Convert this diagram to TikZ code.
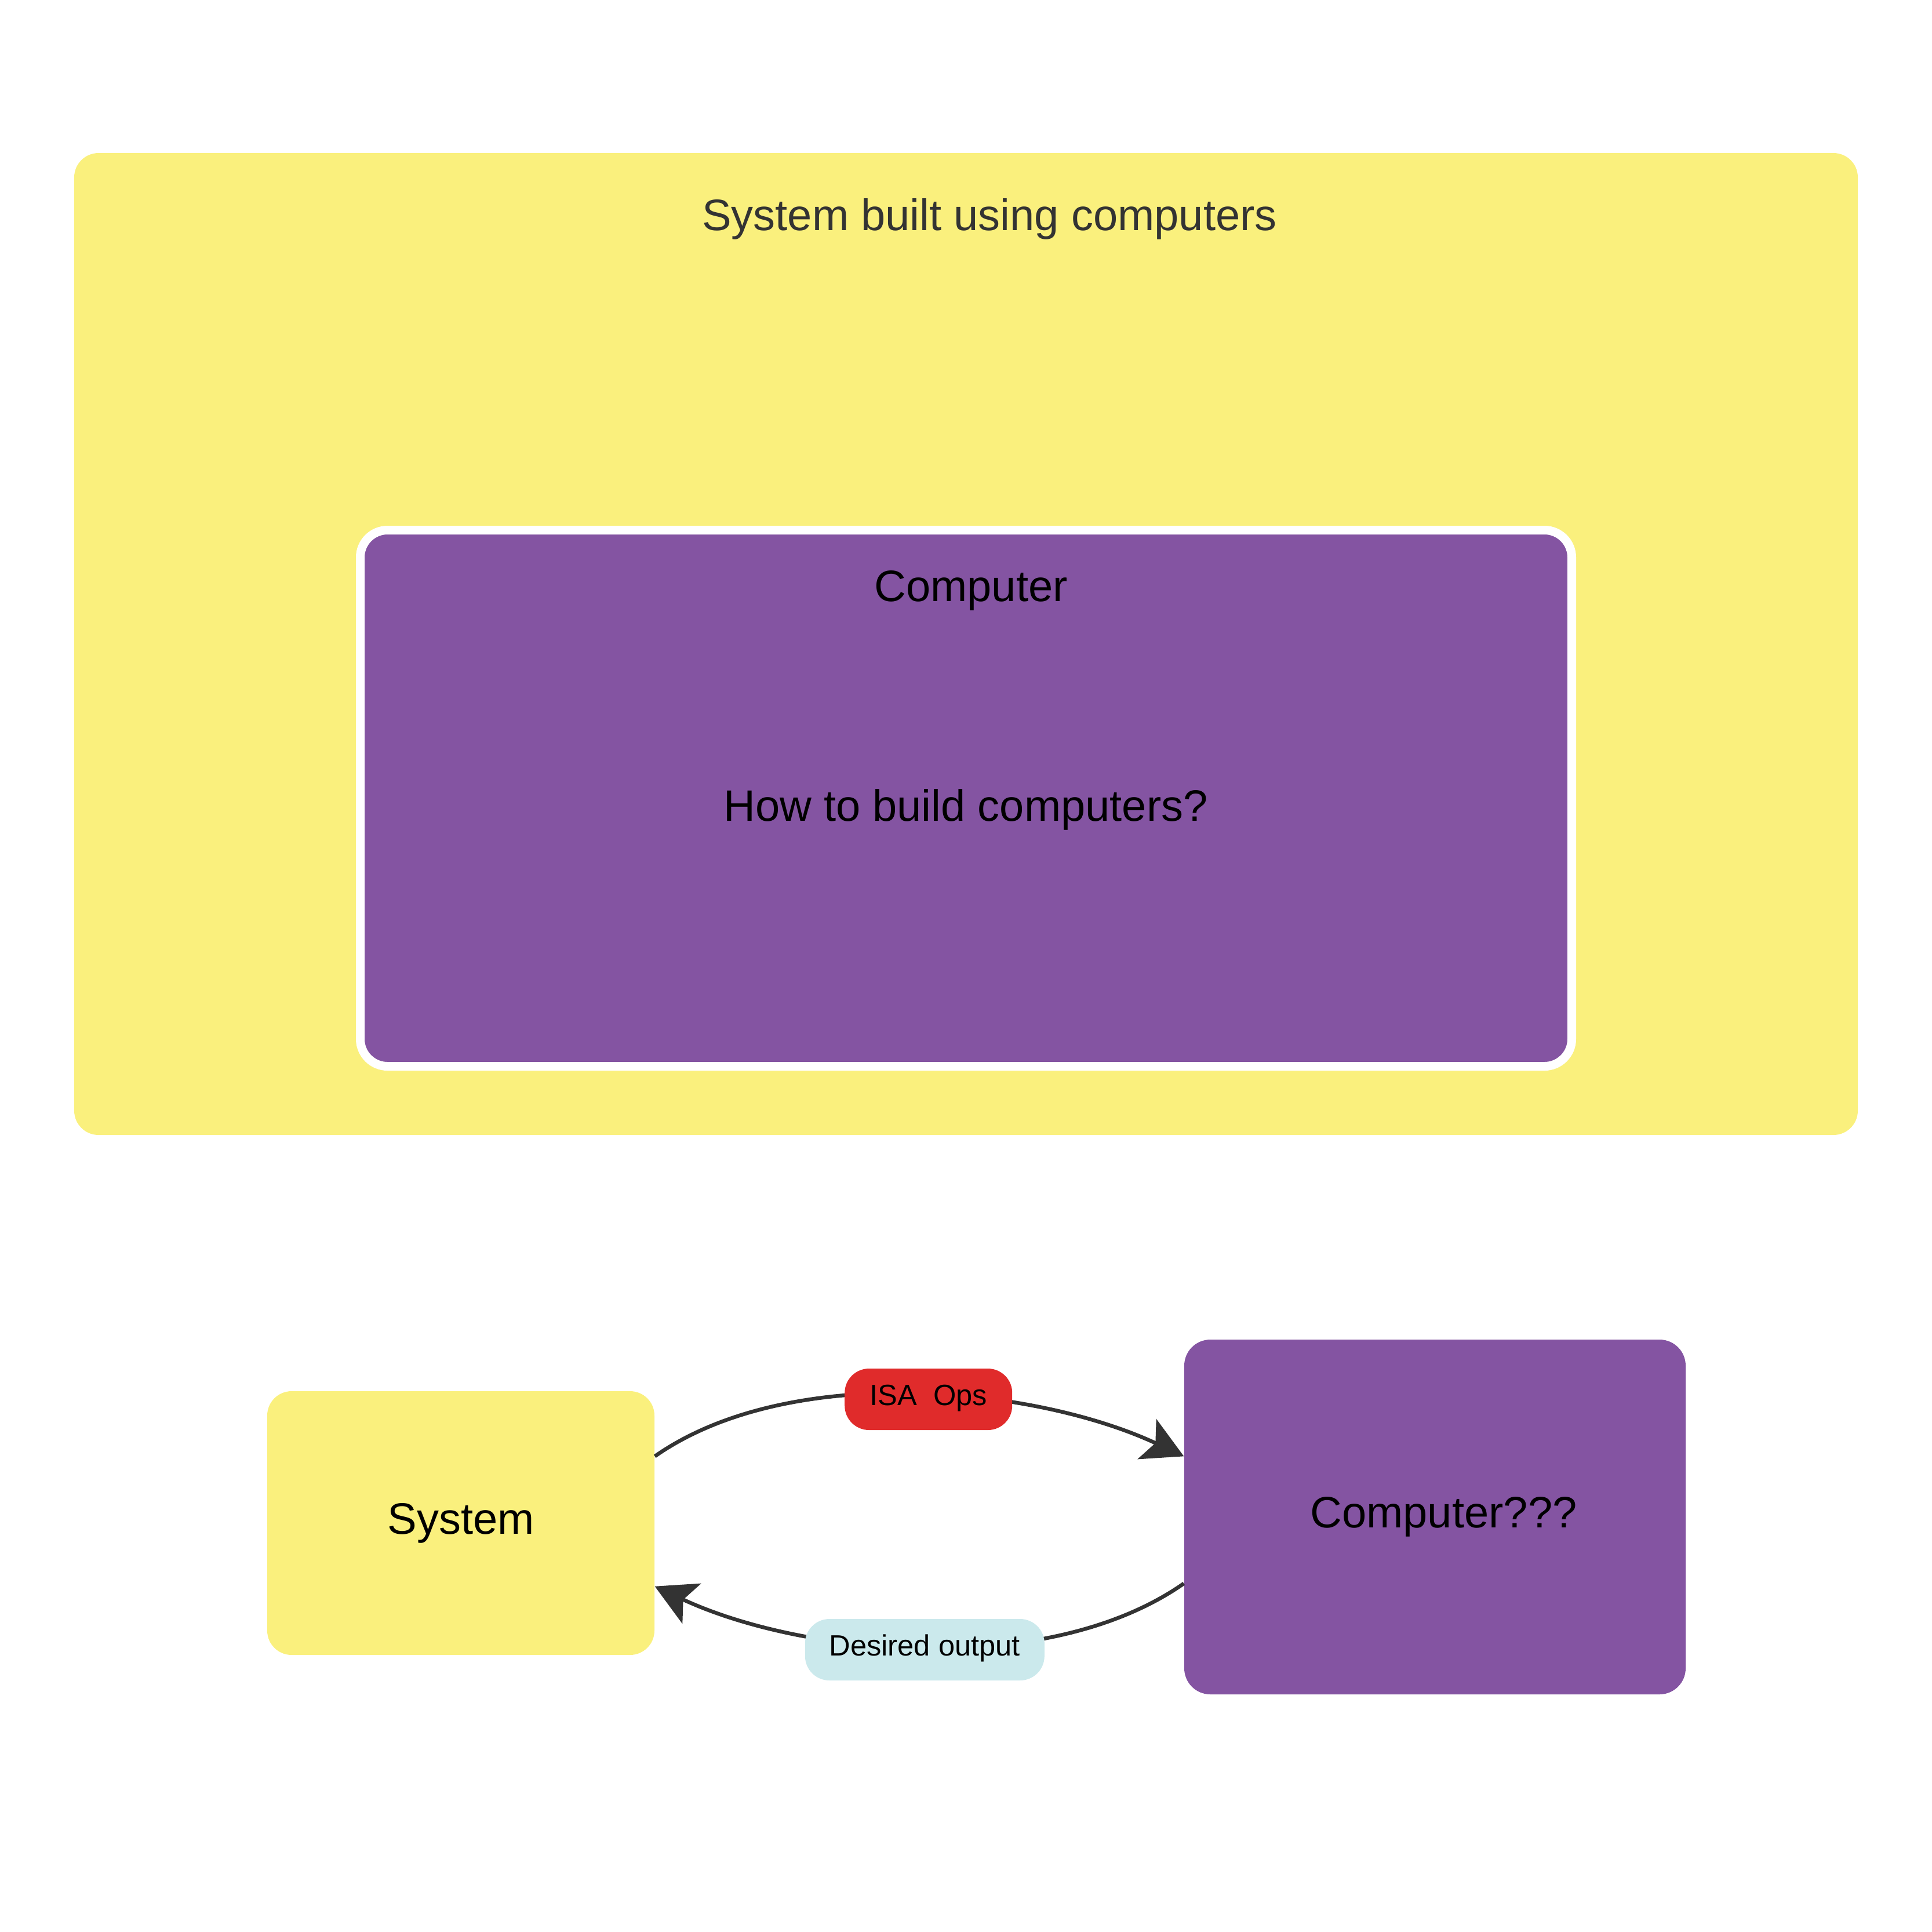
\documentclass[tikz,border=0pt]{standalone}
\usepackage{fontspec}
\setmainfont{Liberation Sans}
\usepackage{xcolor}
\usetikzlibrary{arrows.meta,positioning}

\definecolor{sysyellow}{HTML}{FAF07D}
\definecolor{cpupurple}{HTML}{8454A2}
\definecolor{isared}{HTML}{E02B2B}
\definecolor{outcyan}{HTML}{CBE9EC}
\definecolor{inkgray}{HTML}{333333}

\begin{document}
\begin{tikzpicture}[
      block/.style={
        inner sep=0pt,
        align=center,
        font=\fontsize{21.6}{26}\selectfont
      },
      sysbox/.style={block, fill=sysyellow, rounded corners=0.42cm},
      cpubox/.style={block, fill=cpupurple, rounded corners=0.45cm},
      caption/.style={font=\fontsize{21.6}{26}\selectfont, anchor=base, inner sep=0pt},
      pill/.style={
        rounded corners=0.42cm,
        minimum height=1.06cm,
        inner sep=0pt,
        text=black,
        text height=1.6ex,
        text depth=0.45ex,
        font=\fontsize{14.4}{17}\selectfont
      },
      flow/.style={
        -{Stealth[length=0.7cm, width=0.76cm, inset=0.16cm]},
        line width=1.85pt,
        inkgray,
        looseness=0.8
      }
    ]
      \path[use as bounding box] (0,0) rectangle (33.33,-33.33);

      % System built using computers
      \node[sysbox, minimum width=30.77cm, minimum height=16.94cm] (world) at (16.665,-11.11) {};
      \node[caption, text=inkgray] (worldtitle) at (17.07,-3.97) {System built using computers};

      % Computer inside the system
      \node[cpubox, draw=white, line width=0.15cm, rounded corners=0.47cm,
            minimum width=20.9cm, minimum height=9.25cm] (core) at (16.665,-13.77) {};
      \node[caption] (coretitle) at (16.75,-10.37) {Computer};
      \node[caption] (corequestion) at (16.66,-14.16) {How to build computers?};

      % System and computer
      \node[sysbox, minimum width=6.68cm, minimum height=4.55cm] (sys) at (7.95,-26.275) {System};
      \node[cpubox, minimum width=8.65cm, minimum height=6.12cm] (comp) at (24.755,-26.17) {\hspace*{0.3cm}Computer???};

      % Connections
      \draw[flow] ([yshift=-1.13cm]sys.north east) to[out=35, in=155]
        node[pill, fill=isared, minimum width=2.89cm, pos=0.525, yshift=-0.07cm] (isa) {ISA\ \ Ops}
        ([yshift=-2.02cm]comp.north west);
      \draw[flow] ([yshift=1.92cm]comp.south west) to[out=215, in=-25]
        node[pill, fill=outcyan, minimum width=4.13cm, pos=0.5, yshift=-0.05cm] (out) {Desired output}
        ([yshift=1.19cm]sys.south east);
    \end{tikzpicture}
\end{document}
